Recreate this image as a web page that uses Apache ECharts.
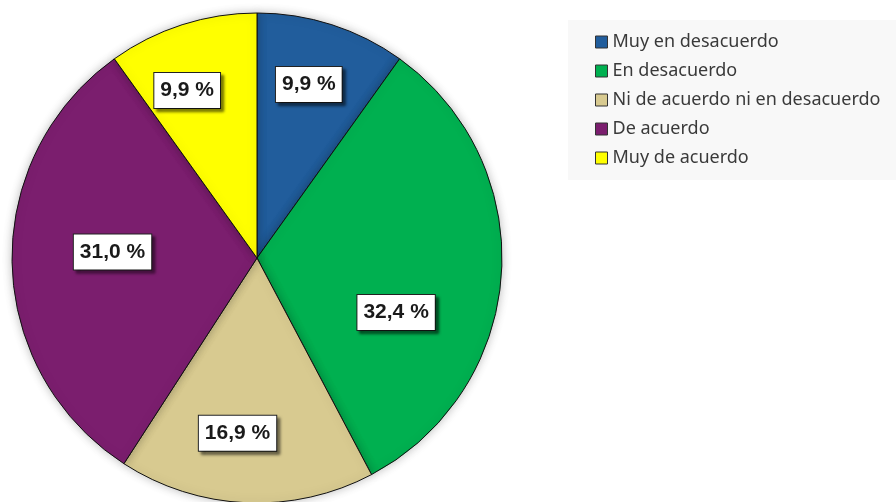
<!DOCTYPE html>
<html>
<head>
<meta charset="utf-8">
<script src="https://cdn.jsdelivr.net/npm/echarts@6/dist/echarts.min.js"></script>
<style>html,body{margin:0;padding:0;background:#fff}#c{width:896px;height:502px}</style>
</head>
<body>
<div id="c"></div>
<script>
const categories = ["Muy en desacuerdo", "En desacuerdo", "Ni de acuerdo ni en desacuerdo", "De acuerdo", "Muy de acuerdo"];
const values = [9.9, 32.4, 16.9, 31.0, 9.9];
const colors = ["#215d9c", "#00b050", "#d8ca90", "#7b1e6e", "#ffff00"];
// label nudges (layout only, not data)
const labelNudge = [[0, -12], [-30, 43], [-12, 6], [25, -10], [-18, -6]];

const chart = echarts.init(document.getElementById('c'), null, {renderer: 'canvas'});
const mainData = categories.map((n, i) => ({name: n, value: values[i], itemStyle: {color: colors[i]}}));
const labelData = categories.map((n, i) => ({name: n, value: values[i], label: {offset: labelNudge[i]}}));
const fmt = v => v.toFixed(1).replace('.', ',') + ' %';

chart.setOption({
  animation: false,
  backgroundColor: '#ffffff',
  legend: {
    orient: 'vertical',
    left: 568, top: 20,
    padding: [13, 20, 13, 27],
    backgroundColor: '#f8f8f8',
    itemWidth: 12, itemHeight: 12, itemGap: 11,
    icon: 'rect',
    data: categories,
    itemStyle: {borderColor: '#333', borderWidth: 1},
    textStyle: {fontFamily: 'Noto Sans', fontSize: 18, color: '#3a3a3a'}
  },
  series: [
    {
      type: 'pie',
      center: [257, 258],
      radius: [0, 245],
      startAngle: 90,
      clockwise: true,
      silent: true,
      label: {show: false},
      labelLine: {show: false},
      itemStyle: {borderColor: '#111', borderWidth: 1, shadowBlur: 10, shadowColor: 'rgba(0,0,0,0.25)'},
      data: mainData
    },
    {
      type: 'pie',
      center: [257, 258],
      radius: [88, 245],
      startAngle: 90,
      clockwise: true,
      silent: true,
      legendHoverLink: false,
      itemStyle: {color: 'rgba(0,0,0,0)', borderWidth: 0},
      labelLine: {show: false},
      label: {
        show: true,
        position: 'inside',
        formatter: p => fmt(p.value),
        fontFamily: 'Liberation Sans',
        fontWeight: 'bold',
        fontSize: 21,
        lineHeight: 22,
        color: '#1a1a1a',
        backgroundColor: '#ffffff',
        borderColor: '#222',
        borderWidth: 1,
        padding: [7, 6, 6, 6],
        shadowColor: 'rgba(0,0,0,0.55)',
        shadowBlur: 3,
        shadowOffsetX: 3,
        shadowOffsetY: 3
      },
      data: labelData
    }
  ]
});
</script>
</body>
</html>
